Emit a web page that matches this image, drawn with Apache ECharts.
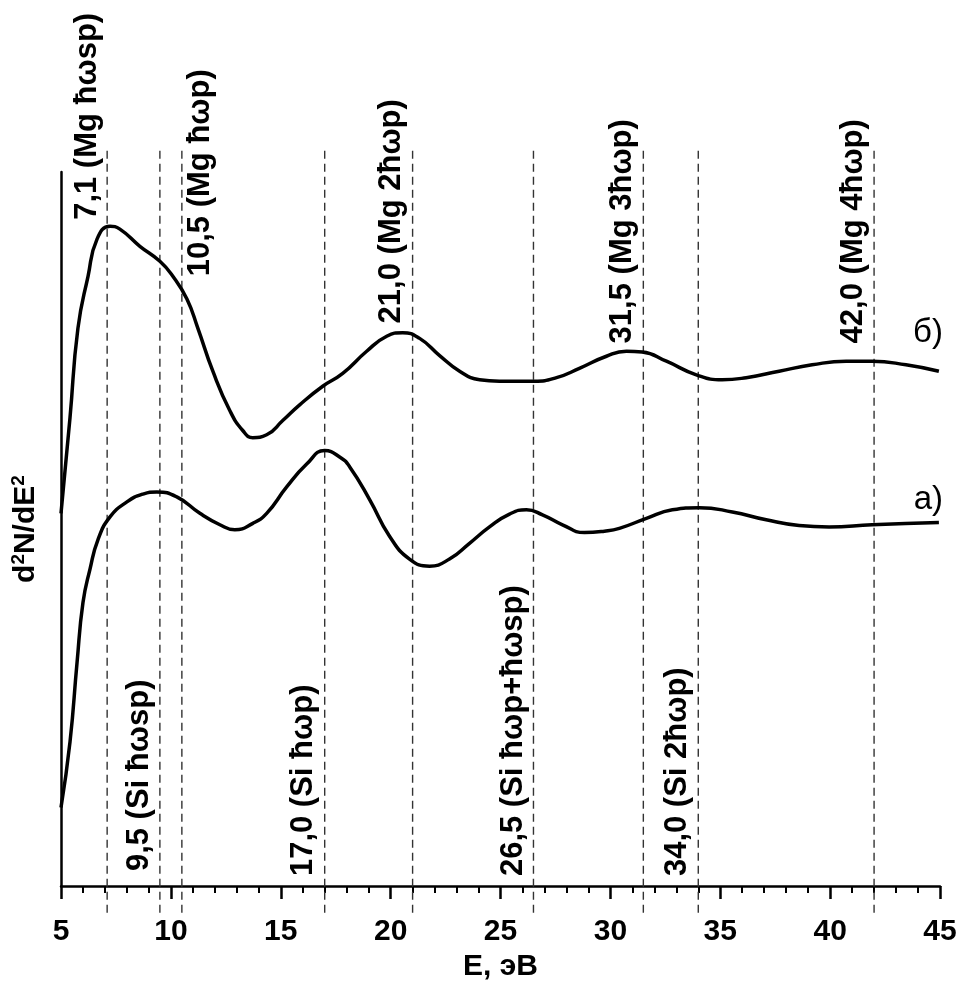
<!DOCTYPE html>
<html><head><meta charset="utf-8">
<script src="https://cdn.jsdelivr.net/npm/echarts@6/dist/echarts.min.js"></script>
<style>html,body{margin:0;padding:0;background:#fff}#c{width:963px;height:987px}</style>
</head><body><div id="c"></div>
<script>
// Curve (б) — upper spectrum: [E, eV ; d2N/dE2, arb. units]
const curveB = [
  [5.0,52.2],[5.41,65.6],[5.77,78.1],[6.23,85.4],[6.64,90.6],[7.23,92.4],[7.68,92.0],
  [8.59,89.6],[9.5,87.5],[10.09,85.4],[10.73,82.2],[11.23,78.1],[11.91,72.1],[12.68,66.6],
  [13.27,63.8],[13.73,62.8],[14.36,63.2],[15.09,65.2],[15.86,67.4],[16.91,70.0],[17.82,71.8],
  [18.91,74.9],[19.82,77.0],[20.55,77.5],[21.32,76.7],[22.23,74.3],[23.14,72.1],[24.05,70.9],
  [24.95,70.7],[26.55,70.7],[27.55,71.2],[28.59,72.5],[29.82,74.2],[30.73,74.9],[31.45,74.8],
  [32.55,73.5],[33.91,71.6],[35.09,70.9],[36.18,71.2],[37.68,72.1],[39.18,73.0],[40.73,73.5],
  [41.91,73.5],[43.45,73.0],[44.95,72.1]
];
// Curve (а) — lower spectrum
const curveA = [
  [5.0,11.0],[5.41,20.2],[5.73,31.3],[6.0,39.7],[6.32,44.4],[6.68,48.5],[7.23,51.7],
  [8.0,53.8],[8.73,54.9],[9.36,55.2],[10.27,54.5],[11.32,52.2],[12.23,50.6],[12.91,49.9],
  [13.73,50.8],[14.36,52.2],[15.27,55.9],[16.18,59.1],[17.0,61.0],[17.68,60.1],[18.14,58.7],
  [19.05,54.1],[19.95,49.0],[20.86,45.8],[21.77,44.8],[22.68,45.8],[23.59,48.0],[24.5,50.3],
  [25.41,52.1],[26.18,52.7],[26.91,52.0],[27.82,50.6],[28.82,49.5],[29.73,49.7],[30.41,50.1],
  [31.64,51.5],[32.82,52.7],[34.05,53.0],[35.55,52.4],[37.09,51.3],[38.59,50.5],[39.95,50.3],
  [41.91,50.6],[44.95,50.9]
];
// Marked energies (dashed lines)
const lineEnergies = [7.1, 9.5, 10.5, 17.0, 21.0, 26.5, 31.5, 34.0, 42.0];
const mgEnergies = [7.1, 10.5, 21.0, 31.5, 42.0];
const mgTexts = ['7,1 (Mg ħωsp)', '10,5 (Mg ħωp)', '21,0 (Mg 2ħωp)', '31,5 (Mg 3ħωp)', '42,0 (Mg 4ħωp)'];
const siEnergies = [9.5, 17.0, 26.5, 34.0];
const siTexts = ['9,5 (Si ħωsp)', '17,0 (Si ħωp)', '26,5 (Si ħωp+ħωsp)', '34,0 (Si 2ħωp)'];
const curveTags = ['б)', 'а)'];

// ---- layout (annotation placement, not data) ----
const mgBase = [93.3, 85.4, 78.8, 76.0, 76.0];
const mgSide = [-20, 19, -21, -21, -21];
const siBase = [2.1, 1.4, 1.4, 1.4];
const siSide = [-20, -21, -20, -21];
const tagPos = [[45, 77.4], [45, 54.1]];
const dashExt = [-3.74, 103.3];

const FONT = '"Liberation Sans", Arial, sans-serif';
const labels = [];
mgEnergies.forEach((e,i)=>labels.push({e, y: mgBase[i], dx: mgSide[i], text: mgTexts[i], rot: Math.PI/2, align:'left', size:31, weight:'bold'}));
siEnergies.forEach((e,i)=>labels.push({e, y: siBase[i], dx: siSide[i], text: siTexts[i], rot: Math.PI/2, align:'left', size:31, weight:'bold'}));
curveTags.forEach((t,i)=>labels.push({e: tagPos[i][0], y: tagPos[i][1], dx: 3, text: t, rot: 0, align:'right', size:33, weight:'normal'}));

const chart = echarts.init(document.getElementById('c'));
chart.setOption({
  animation: false,
  backgroundColor: '#fff',
  grid: {left: 61, right: 23, top: 172, bottom: 94},
  xAxis: {
    type: 'value', min: 5, max: 45, interval: 5,
    name: 'E, эВ', nameLocation: 'middle', nameGap: 56,
    nameTextStyle: {fontSize: 30, fontWeight: 'bold', color: '#000', fontFamily: FONT},
    axisLine: {show: true, onZero: false, lineStyle: {color: '#000', width: 2.5}},
    axisTick: {show: true, inside: false, length: 13, lineStyle: {color: '#000', width: 2.5}},
    minorTick: {show: true, splitNumber: 5, length: 7, lineStyle: {color: '#000', width: 2}},
    axisLabel: {fontSize: 30, fontWeight: 'bold', color: '#000', fontFamily: FONT, margin: 31},
    splitLine: {show: false}
  },
  yAxis: {
    type: 'value', min: 0, max: 100,
    name: '{a|d}{s|2}{a|N/dE}{s|2}', nameLocation: 'middle', nameGap: 18, nameRotate: 90,
    nameTextStyle: {
      color: '#000', fontFamily: FONT,
      rich: {
        a: {fontSize: 30, fontWeight: 'bold', color: '#000', fontFamily: FONT, lineHeight: 34},
        s: {fontSize: 19, fontWeight: 'bold', color: '#000', fontFamily: FONT, verticalAlign: 'top', lineHeight: 34}
      }
    },
    axisLine: {show: true, lineStyle: {color: '#000', width: 2.5}},
    axisTick: {show: false}, axisLabel: {show: false}, splitLine: {show: false}
  },
  series: [
    {
      type: 'custom', coordinateSystem: 'cartesian2d', clip: false, silent: true, z: 1,
      data: lineEnergies.map(e => [e, 0]),
      renderItem: (params, api) => {
        const e = api.value(0);
        const p1 = api.coord([e, dashExt[0]]);
        const p2 = api.coord([e, dashExt[1]]);
        return {type: 'line', shape: {x1: p1[0], y1: p1[1], x2: p2[0], y2: p2[1]},
          style: {stroke: '#333', lineWidth: 1.4, lineDash: [8, 5]}};
      }
    },
    {type: 'line', data: curveB, smooth: 0.5, showSymbol: false, symbol: 'none', clip: false, z: 3,
      lineStyle: {color: '#000', width: 3.5}},
    {type: 'line', data: curveA, smooth: 0.5, showSymbol: false, symbol: 'none', clip: false, z: 3,
      lineStyle: {color: '#000', width: 3.5}},
    {
      type: 'custom', coordinateSystem: 'cartesian2d', clip: false, silent: true, z: 4,
      data: labels.map(l => [l.e, l.y]),
      renderItem: (params, api) => {
        const l = labels[params.dataIndex];
        const p = api.coord([api.value(0), api.value(1)]);
        return {type: 'text', x: p[0] + l.dx, y: p[1], rotation: l.rot,
          style: {text: l.text, fill: '#000', fontSize: l.size, fontWeight: l.weight, fontFamily: FONT,
            align: l.align, verticalAlign: 'middle'}};
      }
    }
  ]
});
</script></body></html>
